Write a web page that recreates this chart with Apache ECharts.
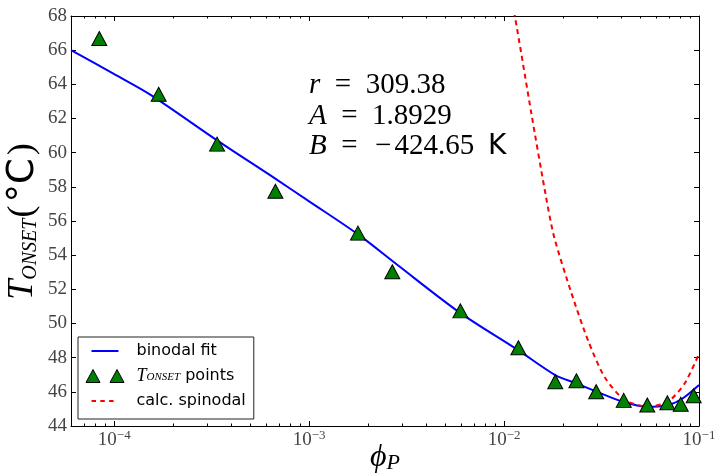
<!DOCTYPE html>
<html>
<head>
<meta charset="utf-8">
<script src="https://cdn.jsdelivr.net/npm/echarts@6/dist/echarts.min.js"></script>
<style>
html,body{margin:0;padding:0;background:#fff;}
#chart{width:718px;height:475px;}
</style>
</head>
<body>
<div id="chart"></div>
<script>
// ---- data ----
const phiPoints = [8.38e-5, 1.69e-4, 3.37e-4, 6.71e-4, 1.78e-3, 2.67e-3, 5.97e-3, 1.184e-2, 1.83e-2, 2.35e-2, 2.97e-2, 4.11e-2, 5.43e-2, 6.88e-2, 8.06e-2, 9.39e-2];
const tOnset    = [66.68, 63.42, 60.50, 57.74, 55.29, 53.03, 50.74, 48.58, 46.59, 46.65, 46.01, 45.50, 45.23, 45.36, 45.27, 45.77];

const phiBinodal = [6.0e-5, 1.0e-4, 1.53e-4, 3.37e-4, 6.7e-4, 1.0e-3, 1.79e-3, 2.82e-3, 5.95e-3, 1.18e-2, 1.83e-2, 2.34e-2, 2.97e-2, 4.07e-2, 5.41e-2, 6.86e-2, 8.09e-2, 0.1];
const tBinodal   = [66.0, 64.6, 63.4, 60.72, 58.48, 57.15, 55.2, 53.45, 50.62, 48.44, 46.98, 46.5, 46.02, 45.42, 45.13, 45.22, 45.55, 46.4];

const phiSpinodal = [0.0105, 0.01135, 0.0138, 0.01618, 0.01803, 0.02213, 0.02697, 0.03284, 0.0416, 0.0548, 0.0693, 0.0845, 0.1];
const tSpinodal   = [69.8, 68.0, 62.3, 57.8, 55.1, 51.8, 49.0, 46.85, 45.52, 45.13, 45.42, 46.5, 48.23];

const xMajorTicks = [1e-4, 1e-3, 1e-2, 1e-1];
const xMinorTicks = [7e-5, 8e-5, 9e-5,
  2e-4, 3e-4, 4e-4, 5e-4, 6e-4, 7e-4, 8e-4, 9e-4,
  2e-3, 3e-3, 4e-3, 5e-3, 6e-3, 7e-3, 8e-3, 9e-3,
  2e-2, 3e-2, 4e-2, 5e-2, 6e-2, 7e-2, 8e-2, 9e-2];
const yMin = 44, yMax = 68, yStep = 2;

const seriesNames = ['binodal fit', 'T_ONSET points', 'calc. spinodal'];
const paramLines = [
  ['r', '', '309.38', ''],
  ['A', '', '1.8929', ''],
  ['B', '\u2212', '424.65', 'K']
];
// ---------------------------------------

const SERIF = '"Liberation Serif","DejaVu Serif",serif';
const SANS = '"DejaVu Sans",sans-serif';
const AX = '#000';
const LBL = '#444';

function zip(a, b) { return a.map((v, i) => [v, b[i]]); }

const chart = echarts.init(document.getElementById('chart'), null, {renderer: 'canvas'});

const xLabelRich = {
  b: {fontFamily: SERIF, fontSize: 19, color: LBL, lineHeight: 22},
  s: {fontFamily: SERIF, fontSize: 13, color: LBL, lineHeight: 12, verticalAlign: 'top'}
};

function majorX(pos, withLabels) {
  return {
    type: 'log', logBase: 10, min: 6e-5, max: 0.1, position: pos, gridIndex: 0,
    axisLine: {show: true, lineStyle: {color: AX, width: 1}},
    axisTick: {show: true, inside: true, length: 5, customValues: xMajorTicks, lineStyle: {color: AX, width: 1}},
    axisLabel: withLabels ? {
      show: true, customValues: xMajorTicks, margin: 3,
      formatter: v => '{b|10}{s|\u2212' + Math.round(-Math.log10(v)) + '}',
      rich: xLabelRich
    } : {show: false},
    splitLine: {show: false}
  };
}
function minorX(pos) {
  return {
    type: 'log', logBase: 10, min: 6e-5, max: 0.1, position: pos, gridIndex: 1,
    axisLine: {show: false},
    axisTick: {show: true, inside: true, length: 2.5, customValues: xMinorTicks, lineStyle: {color: AX, width: 1}},
    axisLabel: {show: false},
    splitLine: {show: false}
  };
}
function yAx(pos, withLabels, grid) {
  return {
    type: 'value', min: yMin, max: yMax, interval: yStep, position: pos, gridIndex: grid,
    axisLine: {show: grid === 0, lineStyle: {color: AX, width: 1}},
    axisTick: {show: grid === 0, inside: true, length: 5, lineStyle: {color: AX, width: 1}},
    axisLabel: withLabels ? {show: true, fontFamily: SERIF, fontSize: 19, color: LBL, margin: 4} : {show: false},
    splitLine: {show: false}
  };
}

const xAxes = [majorX('bottom', true), majorX('top', false), minorX('bottom'), minorX('top')];
xAxes[0].name = '{phi|\u03d5}{sub|P}';
xAxes[0].nameLocation = 'middle';
xAxes[0].nameGap = 16;
xAxes[0].nameMoveOverlap = false;
xAxes[0].nameTextStyle = {
  rich: {
    phi: {fontFamily: SERIF, fontStyle: 'italic', fontSize: 32, color: '#000', lineHeight: 32},
    sub: {fontFamily: SERIF, fontStyle: 'italic', fontSize: 22, color: '#000', lineHeight: 22, verticalAlign: 'bottom'}
  }
};
const yAxes = [yAx('left', true, 0), yAx('right', false, 0), yAx('left', false, 1)];
yAxes[0].name = '{t|T}{sub|ONSET}{p|(}{c|\u00b0C}{p|)}';
yAxes[0].nameLocation = 'middle';
yAxes[0].nameGap = 30;
yAxes[0].nameMoveOverlap = false;
yAxes[0].nameTextStyle = {
  rich: {
    t: {fontFamily: SERIF, fontStyle: 'italic', fontSize: 36, color: '#000', lineHeight: 36},
    sub: {fontFamily: SERIF, fontStyle: 'italic', fontSize: 20, color: '#000', lineHeight: 20, verticalAlign: 'bottom'},
    p: {fontFamily: SERIF, fontSize: 36, color: '#000', lineHeight: 36, padding: [0, 1, 0, 1]},
    c: {fontFamily: SANS, fontSize: 37, color: '#000', lineHeight: 36, padding: [0, 2, 0, 2]}
  }
};

const legendRich = {
  i: {fontFamily: SERIF, fontStyle: 'italic', fontSize: 18, color: '#000', lineHeight: 14},
  sub: {fontFamily: SERIF, fontStyle: 'italic', fontSize: 11, color: '#000', lineHeight: 8, verticalAlign: 'bottom'},
  n: {fontFamily: SANS, fontSize: 16, color: '#000', lineHeight: 14}
};

const paramRich = {
  v: {fontFamily: SERIF, fontStyle: 'italic', fontSize: 29, color: '#000'},
  n: {fontFamily: SERIF, fontSize: 29, color: '#000'},
  m: {fontFamily: SERIF, fontSize: 29, color: '#000', padding: [0, 3, 0, 3]},
  k: {fontFamily: SANS, fontSize: 28, color: '#000', padding: [0, 0, 0, 5]}
};
const paramGraphics = paramLines.map((p, i) => ({
  type: 'text', left: 309, top: 71 + i * 30.5, z: 10,
  style: {
    text: '{v|' + p[0] + '}{n|\u2002=\u2002}' + (p[1] ? '{m|' + p[1] + '}' : '') + '{n|' + p[2] + '}' + (p[3] ? '{k| ' + p[3] + '}' : ''),
    rich: paramRich
  }
}));

const gridBox = {left: 71, right: 19, top: 16, bottom: 49, containLabel: false, outerBoundsMode: 'none'};

const option = {
  animation: false,
  backgroundColor: '#fff',
  grid: [Object.assign({}, gridBox), Object.assign({}, gridBox)],
  xAxis: xAxes,
  yAxis: yAxes,
  legend: {
    orient: 'vertical', left: 78, top: 337,
    padding: [6, 8, 10, 7],
    itemWidth: 46, itemHeight: 14, itemGap: 8,
    borderColor: '#222', borderWidth: 1, borderRadius: 0,
    backgroundColor: '#fff',
    selectedMode: false,
    textStyle: {fontFamily: SANS, fontSize: 16, color: '#000', lineHeight: 14, rich: legendRich},
    formatter: name => name === seriesNames[1] ? '{i|T}{sub|ONSET}{n| points}' : name,
    data: [
      {name: seriesNames[0], icon: 'path://M0,0M46,14M6,6h27v2h-27z', itemStyle: {color: '#0000ff', borderWidth: 0}},
      {name: seriesNames[1], icon: 'path://M0,0M46,14M7.5,0.5L14.5,13.5L0.5,13.5Z M31.5,0.5L38.5,13.5L24.5,13.5Z', itemStyle: {color: '#008000', borderColor: '#000', borderWidth: 1}},
      {name: seriesNames[2], icon: 'path://M0,0M46,14M6,6h4.5v2h-4.5z M14.8,6h4.5v2h-4.5z M23.6,6h4.5v2h-4.5z', itemStyle: {color: '#ff0000', borderWidth: 0}}
    ]
  },
  graphic: paramGraphics,
  series: [
    {
      name: seriesNames[0], type: 'line', xAxisIndex: 0, yAxisIndex: 0,
      data: zip(phiBinodal, tBinodal), showSymbol: false, symbol: 'none',
      smooth: 0.3, clip: true,
      lineStyle: {color: '#0000ff', width: 2}, itemStyle: {color: '#0000ff'}, z: 2
    },
    {
      name: seriesNames[2], type: 'line', xAxisIndex: 0, yAxisIndex: 0,
      data: zip(phiSpinodal, tSpinodal), showSymbol: false, symbol: 'none',
      smooth: 0.25, clip: true,
      lineStyle: {color: '#ff0000', width: 2, type: [5, 4]}, itemStyle: {color: '#ff0000'}, z: 3
    },
    {
      name: seriesNames[1], type: 'scatter', xAxisIndex: 0, yAxisIndex: 0,
      data: zip(phiPoints, tOnset), symbol: 'triangle', symbolSize: [15, 14],
      itemStyle: {color: '#008000', borderColor: '#000', borderWidth: 1, opacity: 1}, z: 4, clip: false
    }
  ]
};
chart.setOption(option);
</script>
</body>
</html>
